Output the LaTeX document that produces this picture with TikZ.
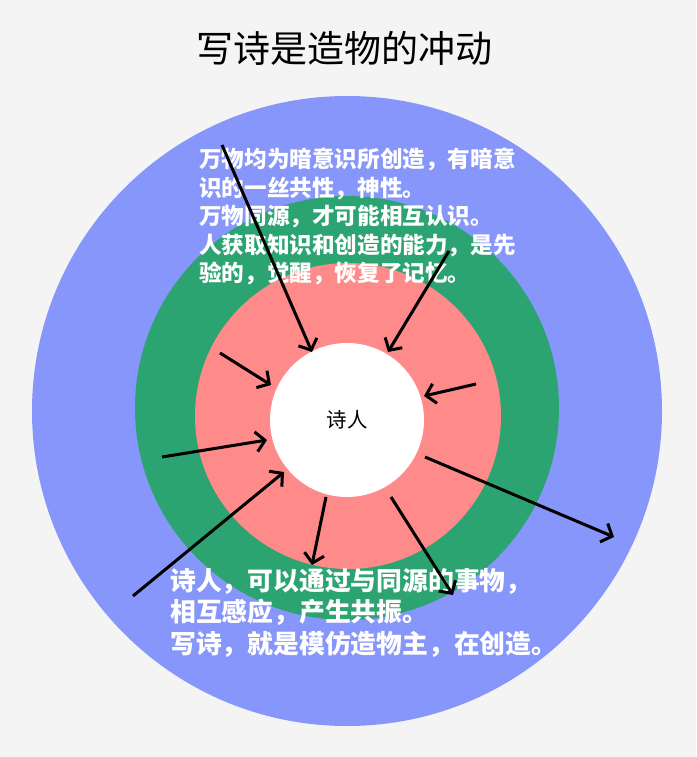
\documentclass[tikz,border=0pt]{standalone}
\usepackage{fontspec}
\usepackage{xcolor}
\usepackage{tikz}
\usetikzlibrary{arrows.meta}
\newfontfamily\cjk{Noto Sans CJK SC}

\definecolor{bgray}{HTML}{F4F4F4}
\definecolor{ringblue}{HTML}{8796FA}
\definecolor{ringgreen}{HTML}{2BA471}
\definecolor{ringred}{HTML}{FE8A8A}

\tikzset{
  ring/.style={circle, draw=none, inner sep=0pt},
  poemtext/.style={text=white, align=left, inner sep=0pt, anchor=north west},
  pointer/.style={line width=3pt, -{Straight Barb[length=9pt,width=20pt]}},
}

\begin{document}
\begin{tikzpicture}[x=1pt, y=-1pt]
\fill[bgray] (0,0) rectangle (696,757);
\useasboundingbox (0,0) rectangle (696,757);

% rings
\node[ring, fill=ringblue, minimum size=630pt] (blue) at (347,411) {};
\node[ring, fill=ringgreen, minimum size=424pt] (green) at (347,408) {};
\node[ring, fill=ringred, minimum size=306pt] (red) at (348,416) {};
\node[ring, fill=white, minimum size=154pt, font=\cjk\fontsize{20.5}{24}\selectfont] (poet) at (347,420) {诗人};

% title
\node[font=\cjk\fontsize{37}{40}\selectfont] (title) at (344,48) {写诗是造物的冲动};

% texts
\node[poemtext, font=\cjk\bfseries\fontsize{22.6}{28.4}\selectfont] (upper) at (199,148)
  {万物均为暗意识所创造，有暗意\\识的一丝共性，神性。\\万物同源，才可能相互认识。\\人获取知识和创造的能力，是先\\验的，觉醒，恢复了记忆。};
\node[poemtext, font=\cjk\bfseries\fontsize{25.8}{31.6}\selectfont] (lower) at (170,568)
  {诗人，可以通过与同源的事物，\\相互感应，产生共振。\\写诗，就是模仿造物主，在创造。};

% arrow ends
\coordinate (a1) at (222,145);  \coordinate (b1) at (312,352);
\coordinate (a2) at (449,251);  \coordinate (b2) at (388,352);
\coordinate (a3) at (220,353);  \coordinate (b3) at (271,385);
\coordinate (a4) at (476,384);  \coordinate (b4) at (424,396);
\coordinate (a5) at (162,457);  \coordinate (b5) at (267,440);
\coordinate (a6) at (133,596);  \coordinate (b6) at (284,472);
\coordinate (a7) at (326,497);  \coordinate (b7) at (312,565);
\coordinate (a8) at (391,497);  \coordinate (b8) at (453,595);
\coordinate (a9) at (425,457);  \coordinate (b9) at (614,537);

\foreach \i in {1,...,9}
  \draw[pointer] (a\i) -- (b\i);

\end{tikzpicture}
\end{document}
